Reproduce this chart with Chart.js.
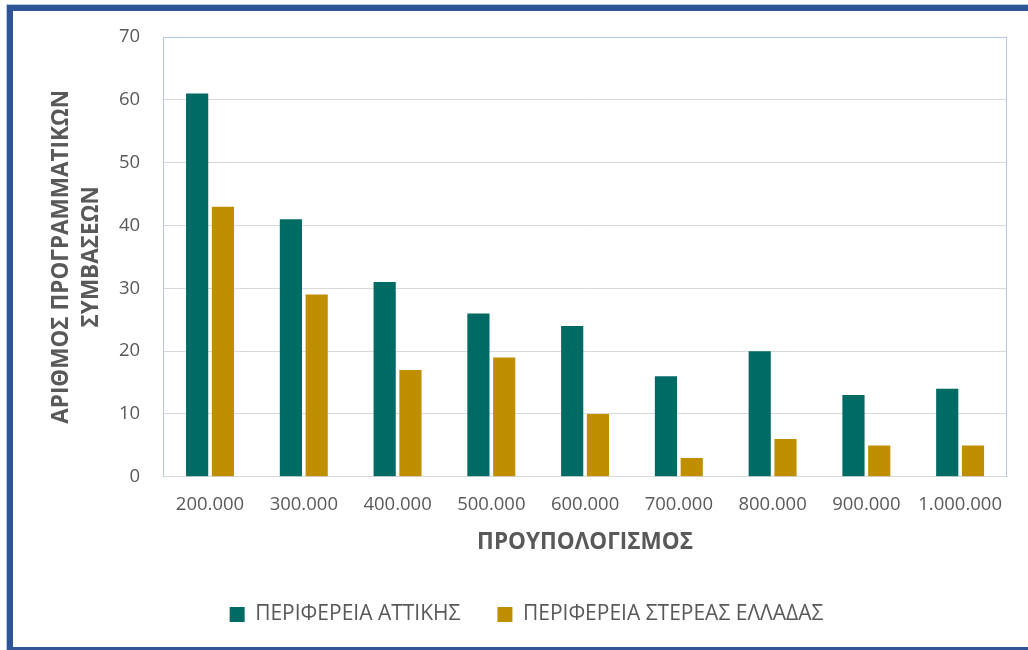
<!DOCTYPE html>
<html lang="el">
<head>
<meta charset="UTF-8" />
<title>Προγραμματικές συμβάσεις ανά προϋπολογισμό</title>
<script src="https://cdn.jsdelivr.net/npm/chart.js"></script>
<style>
  html, body { margin: 0; padding: 0; background: #fff; overflow: hidden; }
  #frame {
    position: absolute; left: 7px; top: 5px; width: 1040px; height: 636px;
    border: 6px solid #2F5597; box-shadow: 0 0 0 1px #b4c7e7;
  }
  #wrap { position: absolute; left: 0; top: 0; width: 1028px; height: 650px; }
</style>
</head>
<body>
<div id="frame"></div>
<div id="wrap"><canvas id="chart" width="1028" height="650"></canvas></div>
<script>
// Δεδομένα
const budgets = ['200.000', '300.000', '400.000', '500.000', '600.000', '700.000', '800.000', '900.000', '1.000.000'];
const attiki = [61, 41, 31, 26, 24, 16, 20, 13, 14];
const sterea = [43, 29, 17, 19, 10, 3, 6, 5, 5];
const seriesNames = ['ΠΕΡΙΦΕΡΕΙΑ ΑΤΤΙΚΗΣ', 'ΠΕΡΙΦΕΡΕΙΑ ΣΤΕΡΕΑΣ ΕΛΛΑΔΑΣ'];
const yTitle = ['ΑΡΙΘΜΟΣ ΠΡΟΓΡΑΜΜΑΤΙΚΩΝ', 'ΣΥΜΒΑΣΕΩΝ'];
const xTitle = 'ΠΡΟΥΠΟΛΟΓΙΣΜΟΣ';

const txt = '#595959';
const grid = '#d9d9d9';
const edge = '#b4c7e7';

// πλαίσιο περιοχής σχεδίασης (πάνω και δεξιά)
const plotBorder = {
  id: 'plotBorder',
  afterDraw(chart) {
    const { ctx, chartArea: a } = chart;
    ctx.save();
    ctx.strokeStyle = edge;
    ctx.lineWidth = 1;
    ctx.beginPath();
    ctx.moveTo(a.left, a.top + 0.5);
    ctx.lineTo(a.right - 0.5, a.top + 0.5);
    ctx.lineTo(a.right - 0.5, a.bottom);
    ctx.stroke();
    ctx.restore();
  }
};

Chart.defaults.font.family = '"Open Sans", sans-serif';
Chart.defaults.color = txt;

new Chart(document.getElementById('chart'), {
  type: 'bar',
  data: {
    labels: budgets,
    datasets: [
      { label: seriesNames[0], data: attiki, backgroundColor: '#006A64' },
      { label: seriesNames[1], data: sterea, backgroundColor: '#BF8F00' }
    ]
  },
  options: {
    responsive: false,
    animation: false,
    layout: { padding: { left: 46, right: 21, top: 37, bottom: 15 } },
    datasets: { bar: { categoryPercentage: 0.55, barPercentage: 0.86 } },
    plugins: {
      tooltip: { enabled: false },
      legend: {
        position: 'bottom',
        labels: { boxWidth: 15, boxHeight: 15, padding: 37, color: txt, font: { size: 21 } }
      }
    },
    scales: {
      x: {
        grid: { display: false, drawTicks: false },
        border: { color: grid },
        ticks: { padding: 17, color: txt, font: { size: 18.5 }, maxRotation: 0 },
        title: {
          display: true, text: xTitle, color: txt,
          font: { size: 22.5, weight: 'bold', lineHeight: 1.2 },
          padding: { top: -4, bottom: 11 }
        }
      },
      y: {
        min: 0, max: 70,
        ticks: { stepSize: 10, padding: 23, color: txt, font: { size: 18.5 } },
        grid: {
          drawTicks: false,
          color: c => (c.tick && c.tick.value === 70 ? edge : grid)
        },
        border: { color: edge },
        title: {
          display: true, text: yTitle, color: txt,
          font: { size: 22.5, weight: 'bold', lineHeight: 30 / 22.5 },
          padding: { top: 1, bottom: -11 }
        }
      }
    }
  },
  plugins: [plotBorder]
});
</script>
</body>
</html>
